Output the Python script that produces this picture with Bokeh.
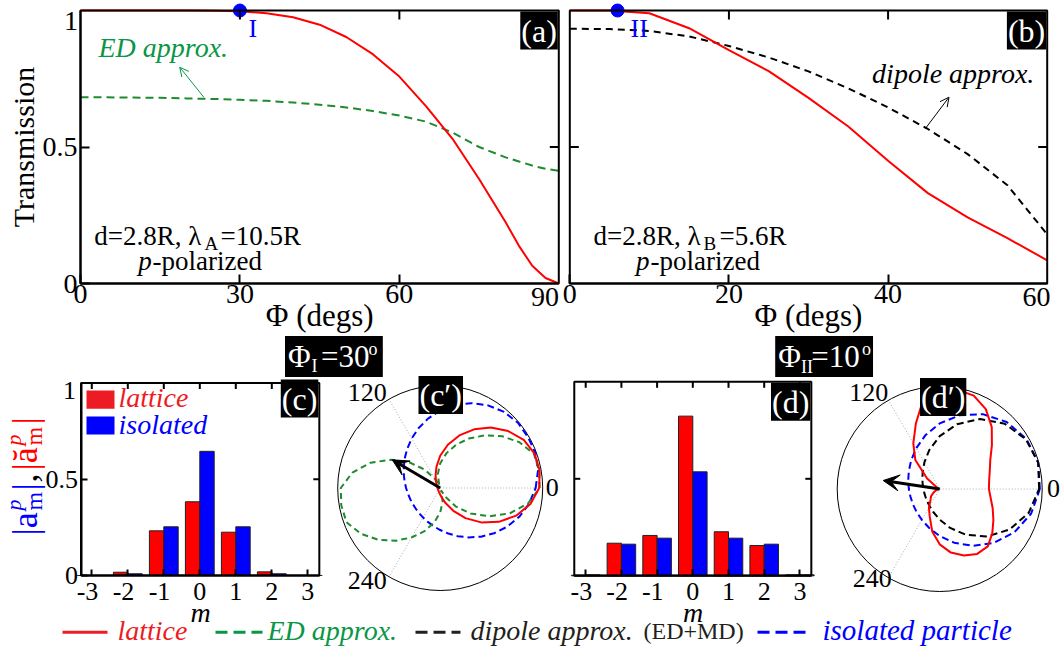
import numpy as np
from bokeh.plotting import figure
from bokeh.models import (Range1d, LinearAxis, FixedTicker, Label, Arrow,
                          OpenHead, VeeHead, ColumnDataSource, BoxAnnotation)
from bokeh.transform import dodge
from bokeh.embed import file_html
from bokeh.resources import INLINE

# ------------------------------------------------------------------ data
# (a)  d=2.8R, lambda_A=10.5R
phi_a = [0, 5, 10, 15, 20, 25, 30, 35, 40, 45, 50, 55, 60, 65, 70, 75, 80, 82.5, 85, 87.5, 90]
trans_lattice_a = [1.0, 1.0, 1.0, 1.0, 1.0, 0.999, 0.997, 0.99, 0.975, 0.948, 0.903, 0.84,
                   0.758, 0.65, 0.53, 0.383, 0.224, 0.138, 0.065, 0.02, 0.0]
trans_ed_a = [0.682, 0.682, 0.681, 0.68, 0.678, 0.676, 0.673, 0.669, 0.663, 0.655, 0.645,
              0.632, 0.615, 0.593, 0.553, 0.5, 0.462, 0.447, 0.432, 0.42, 0.413]
point_I_phi = [30]
point_I_T = [1.0]

# (b)  d=2.8R, lambda_B=5.6R
phi_b = [0, 5, 10, 15, 20, 25, 30, 35, 40, 45, 50, 55, 60]
trans_lattice_b = [1.0, 1.0, 0.99, 0.935, 0.855, 0.778, 0.68, 0.575, 0.45, 0.331, 0.242, 0.166, 0.085]
phi_b_dip = [0, 5, 10, 15, 20, 25, 30, 35, 40, 45, 50, 55, 57.5, 60]
trans_dipole_b = [0.933, 0.932, 0.925, 0.905, 0.87, 0.828, 0.777, 0.715, 0.645, 0.566, 0.474,
                  0.36, 0.27, 0.18]
point_II_phi = [6]
point_II_T = [1.0]

# (c), (d) multipole amplitudes
m_vals = [-3, -2, -1, 0, 1, 2, 3]
c_lattice = [0.0, 0.017, 0.232, 0.383, 0.225, 0.019, 0.0]
c_isolated = [0.0, 0.009, 0.253, 0.645, 0.253, 0.009, 0.0]
d_lattice = [0.003, 0.168, 0.208, 0.823, 0.227, 0.156, 0.005]
d_isolated = [0.005, 0.163, 0.194, 0.536, 0.194, 0.163, 0.005]

# (c'), (d') polar patterns (angle in degrees, normalised radius)
ang15 = [0, 15, 30, 45, 60, 75, 90, 105, 120, 135, 150, 165, 180, 195, 210, 225, 240, 255,
         270, 285, 300, 315, 330, 345]
ang10 = [0, 10, 20, 30, 40, 50, 60, 70, 80, 90, 100, 110, 120, 130, 140, 150, 160, 170, 180,
         190, 200, 210, 220, 230, 240, 250, 260, 270, 280, 290, 300, 310, 320, 330, 340, 350]
cp_lattice = [0.966, 0.985, 0.98, 0.941, 0.865, 0.770, 0.661, 0.546, 0.429, 0.315, 0.210, 0.131,
              0.083, 0.057, 0.044, 0.036, 0.031, 0.028, 0.026, 0.025, 0.025, 0.025, 0.026, 0.029,
              0.032, 0.038, 0.048, 0.065, 0.097, 0.159, 0.257, 0.384, 0.522, 0.660, 0.789, 0.894]
cp_ed = [0.97, 0.98, 0.973, 0.893, 0.787, 0.671, 0.557, 0.448, 0.343, 0.24, 0.135, 0.025,
         0.097, 0.233, 0.387, 0.553, 0.722, 0.87, 0.97, 0.98, 0.973, 0.893, 0.787, 0.671,
         0.557, 0.448, 0.343, 0.24, 0.135, 0.025, 0.097, 0.233, 0.387, 0.553, 0.722, 0.87]
cp_isolated = [0.931, 0.969, 0.99, 0.99, 0.99, 0.969, 0.931, 0.881, 0.821, 0.755, 0.687, 0.620,
               0.557, 0.500, 0.451, 0.410, 0.378, 0.352, 0.333, 0.320, 0.312, 0.310, 0.312, 0.320,
               0.333, 0.352, 0.378, 0.410, 0.451, 0.500, 0.557, 0.620, 0.687, 0.755, 0.821, 0.881]
dp_dipole = [0.970, 0.995, 0.970, 0.899, 0.789, 0.655, 0.516, 0.393, 0.299, 0.235, 0.195, 0.172,
             0.159, 0.155, 0.159, 0.172, 0.195, 0.235, 0.299, 0.393, 0.516, 0.655, 0.789, 0.899]
dp_isolated = [0.977, 0.995, 0.977, 0.924, 0.843, 0.744, 0.640, 0.542, 0.459, 0.394, 0.348, 0.318,
               0.301, 0.295, 0.301, 0.318, 0.348, 0.394, 0.459, 0.542, 0.640, 0.744, 0.843, 0.924]
dp_lattice = [0.48, 0.49, 0.52, 0.57, 0.665, 0.79, 0.90, 0.97, 0.985, 0.97, 0.90, 0.68, 0.515,
              0.37, 0.16, 0.03, 0.015, 0.01, 0.01, 0.015, 0.04, 0.07, 0.11, 0.14, 0.21, 0.285,
              0.42, 0.54, 0.63, 0.69, 0.731, 0.73, 0.67, 0.605, 0.55, 0.505]
polar_grid_angles = [0, 120, 240]
arrow_cp = [-0.468, 0.275]
arrow_dp = [-0.551, 0.083]

# ------------------------------------------------------------------ style
SERIF = "Liberation Serif"
RED = "#ff0000"
GREEN = "#1f8a2e"
GREEN_TXT = "#0a9646"
BLUE = "#0000ff"
LEG_RED = "#ed1c24"
DARK = "#231f20"

W, H = 1060, 650          # one canvas at the page origin; page pixel (px, py) -> (px, -py)
p = figure(width=W, height=H, x_range=Range1d(0, W), y_range=Range1d(-H, 0),
           x_axis_type=None, y_axis_type=None, output_backend="svg", toolbar_location=None,
           min_border=0, min_border_left=0, min_border_right=0, min_border_top=0,
           min_border_bottom=0, background_fill_color="white", border_fill_color="white")
p.outline_line_color = None


def Y(py):
    return -py


MID = 0.3375   # distance (in em) between the alphabetic baseline and the text middle


def add_text(x, y, text, size, color="black", style="normal", align="left",
             baseline="alphabetic", angle=0.0, bg=None, pad=0):
    """(x, y) is a page position; for 'alphabetic' it is the baseline start."""
    if baseline == "alphabetic":
        if angle:
            x = x - MID * size
        else:
            y = y - MID * size
        baseline = "middle"
    kw = dict(x=x, y=Y(y), text=text, text_font=SERIF, text_font_size=f"{size}px",
              text_color=color, text_font_style=style, text_align=align,
              text_baseline=baseline, angle=angle)
    if bg is not None:
        kw.update(background_fill_color=bg, background_fill_alpha=1.0, padding=pad)
    p.add_layout(Label(**kw))


xr, yr, panels = {}, {}, {}


def panel(name, x0, x1, X0, X1, y0, y1, Y0, Y1):
    """data (x0..x1, y0..y1) shown at page pixels (X0..X1, Y0 bottom..Y1 top)."""
    sx = (X1 - X0) / (x1 - x0)
    sy = (Y0 - Y1) / (y1 - y0)
    xr[name] = Range1d(x0 + (0 - X0) / sx, x0 + (W - X0) / sx)
    yr[name] = Range1d(y0 - (H - Y0) / sy, y0 + (Y0 - 0) / sy)
    panels[name] = (sx, sy)


# page geometry of every panel
panel("a", 0, 90, 80, 558.3, 0, 1, 283, 10)
panel("b", 0, 60, 569.3, 1046.7, 0, 1, 283, 10)
panel("c", -3, 3, 91.3, 307.3, 0, 1, 575, 382.5)
panel("d", -3, 3, 585.2, 799.4, 0, 1, 575.3, 381.3)
panel("cp", 0, 1, 439.7, 542.2, 0, 1, 487.5, 385.0)
panel("dp", 0, 1, 939.2, 1041.7, 0, 1, 488.5, 386.0)
p.extra_x_ranges = xr
p.extra_y_ranges = yr


def frame(name, xb, yb, xticks, yticks, tick, size, xlabels, ylabels, left_axis=True):
    sx, sy = panels[name]
    p.add_layout(BoxAnnotation(left=xb[0], right=xb[1], bottom=yb[0], top=yb[1],
                               x_range_name=name, y_range_name=name, fill_color=None,
                               line_color="black", line_width=2, line_alpha=1.0))
    common = dict(x_range_name=name, y_range_name=name, major_tick_in=tick, major_tick_out=0,
                  minor_tick_line_color=None, axis_line_width=2, axis_line_color="black",
                  major_tick_line_width=2, major_tick_line_color="black",
                  major_label_text_font=SERIF, major_label_text_font_size=f"{size}px",
                  major_label_text_color="black")
    xa = LinearAxis(fixed_location=yb[0], bounds=xb,
                    ticker=FixedTicker(ticks=list(xlabels.keys())),
                    major_label_overrides=xlabels, major_label_standoff=1, **common)
    p.add_layout(xa, "below")
    ya = None
    if left_axis:
        ya = LinearAxis(fixed_location=xb[0], bounds=yb,
                        ticker=FixedTicker(ticks=list(ylabels.keys())),
                        major_label_overrides=ylabels, major_label_standoff=3, **common)
        p.add_layout(ya, "left")
    else:
        p.segment(x0=[xb[0]] * len(yticks), y0=yticks, x1=[xb[0] + tick / sx] * len(yticks),
                  y1=yticks, line_color="black", line_width=2, x_range_name=name,
                  y_range_name=name)
    # mirrored inward ticks on top and right
    p.segment(x0=xticks, y0=[yb[1]] * len(xticks), x1=xticks, y1=[yb[1] - tick / sy] * len(xticks),
              line_color="black", line_width=2, x_range_name=name, y_range_name=name)
    p.segment(x0=[xb[1]] * len(yticks), y0=yticks, x1=[xb[1] - tick / sx] * len(yticks),
              y1=yticks, line_color="black", line_width=2, x_range_name=name, y_range_name=name)
    return xa, ya


# ------------------------------------------------------------------ (a)
p.line(phi_a, trans_ed_a, line_color=GREEN, line_width=2, line_dash="8 5",
       x_range_name="a", y_range_name="a")
p.line(phi_a, trans_lattice_a, line_color=RED, line_width=2, x_range_name="a", y_range_name="a")
p.scatter(point_I_phi, point_I_T, size=13, fill_color=BLUE, line_color=BLUE,
          x_range_name="a", y_range_name="a")
_, ya_a = frame("a", (0, 90), (0, 1), [30, 60], [0.5], 9, 28,
                {0: "0", 30: "30", 60: "60"}, {0: "0", 0.5: "0.5"})
ya_a.axis_label = "Transmission"
ya_a.axis_label_text_font = SERIF
ya_a.axis_label_text_font_style = "normal"
ya_a.axis_label_text_font_size = "30px"
ya_a.axis_label_text_color = "black"
ya_a.axis_label_standoff = 0

add_text(77.5, 30, "1", 28, align="right")
add_text(558.5, 306, "90", 28, align="right")
add_text(319.2, 325, "Φ (degs)", 31, align="center")
add_text(248, 36.5, "I", 26, color=BLUE)
add_text(98, 56, "ED approx.", 28, color=GREEN_TXT, style="italic")
p.add_layout(Arrow(end=OpenHead(size=9, line_color=GREEN_TXT, line_width=1),
                   x_start=203.3, y_start=Y(96.7), x_end=179.2, y_end=Y(66.7),
                   line_color=GREEN_TXT, line_width=1))
add_text(93.7, 245, "d=2.8R, λ", 27)
add_text(204, 249, "A", 19)
add_text(220, 245, "=10.5R", 27)
add_text(137.8, 269.5, "p", 27, style="italic")
add_text(152, 269.5, "-polarized", 27)
add_text(557.3, 11, "(a)", 32, color="white", align="right", baseline="top", bg="black", pad=1)
add_text(284.5, 366.5, "Φ\u2004=30\u2004", 31, color="white", bg="black", pad=3)
add_text(311, 372, "I", 18, color="white")
add_text(368, 354.5, "o", 18, color="white")

# ------------------------------------------------------------------ (b)
p.line(phi_b_dip, trans_dipole_b, line_color="black", line_width=2, line_dash="7 5",
       x_range_name="b", y_range_name="b")
p.line(phi_b, trans_lattice_b, line_color=RED, line_width=2, x_range_name="b", y_range_name="b")
p.scatter(point_II_phi, point_II_T, size=13, fill_color=BLUE, line_color=BLUE,
          x_range_name="b", y_range_name="b")
frame("b", (0, 60), (0, 1), [20, 40], [0.5], 9, 28,
      {0: "0", 20: "20", 40: "40"}, {}, left_axis=False)
add_text(1050, 305.5, "60", 28, align="right")
add_text(808, 325, "Φ (degs)", 31, align="center")
add_text(630, 36.5, "II", 26, color=BLUE)
add_text(871.6, 82, "dipole approx.", 28, style="italic")
p.add_layout(Arrow(end=OpenHead(size=9, line_color="black", line_width=1),
                   x_start=924.7, y_start=Y(128.3), x_end=948.5, y_end=Y(96.7),
                   line_color="black", line_width=1))
add_text(592.9, 245, "d=2.8R, λ", 27)
add_text(703, 249, "B", 19)
add_text(719, 245, "=5.6R", 27)
add_text(635.5, 269.5, "p", 27, style="italic")
add_text(650, 269.5, "-polarized", 27)
add_text(1045.7, 11, "(b)", 32, color="white", align="right", baseline="top", bg="black", pad=1)
add_text(774.7, 366.5, "Φ\u2004=10\u2004", 31, color="white", bg="black", pad=3)
add_text(800.5, 373, "II", 18, color="white")
add_text(861.5, 355, "o", 18, color="white")

# ------------------------------------------------------------------ (c)
mlabels = {-3: "-3\u2004", -2: "-2\u2004", -1: "-1\u2004", 0: "0", 1: "1", 2: "2", 3: "3"}
src_c = ColumnDataSource(dict(m=m_vals, lattice=c_lattice, isolated=c_isolated))
p.vbar(x=dodge("m", -0.2), top="lattice", width=0.4, bottom=0, fill_color=RED,
       line_color="#222222", line_width=1, source=src_c, x_range_name="c", y_range_name="c")
p.vbar(x=dodge("m", 0.2), top="isolated", width=0.4, bottom=0, fill_color=BLUE,
       line_color="#222222", line_width=1, source=src_c, x_range_name="c", y_range_name="c")
frame("c", (-3.3, 3.32), (0, 1), m_vals, [0.5], 6, 26, mlabels, {0: "0", 0.5: "0.5"})
add_text(75.5, 398.3, "1", 26, align="right")
add_text(200, 621, "m", 28, style="italic", align="center")
p.add_layout(BoxAnnotation(left=86, right=114, top=Y(390), bottom=Y(408.3),
                           fill_color=LEG_RED, fill_alpha=1.0, line_color=None))
p.add_layout(BoxAnnotation(left=86, right=114, top=Y(416), bottom=Y(434),
                           fill_color=BLUE, fill_alpha=1.0, line_color=None))
add_text(118, 406.5, "lattice", 28, color=LEG_RED, style="italic")
add_text(118, 433.5, "isolated", 28, color=BLUE, style="italic")
add_text(317.8, 379, "(c)", 32, color="white", align="right", baseline="top", bg="black", pad=1)
# rotated y label  |a^p_m|,|ă^p_m|
ROT = np.pi / 2
add_text(37, 535, "|a", 36, color=BLUE, angle=ROT)
add_text(20.5, 510, "p", 22, color=BLUE, style="italic", angle=ROT)
add_text(42, 510, "m", 24, color=BLUE, angle=ROT)
add_text(37, 490, "|", 36, color=BLUE, angle=ROT)
add_text(37, 482, ",", 36, color="black", angle=ROT)
add_text(37, 470, "|ă", 36, color=RED, angle=ROT)
add_text(20.5, 445, "p", 22, color=RED, style="italic", angle=ROT)
add_text(42, 445, "m", 24, color=RED, angle=ROT)
add_text(37, 424, "|", 36, color=RED, angle=ROT)

# ------------------------------------------------------------------ (d)
src_d = ColumnDataSource(dict(m=m_vals, lattice=d_lattice, isolated=d_isolated))
p.vbar(x=dodge("m", -0.2), top="lattice", width=0.4, bottom=0, fill_color=RED,
       line_color="#222222", line_width=1, source=src_d, x_range_name="d", y_range_name="d")
p.vbar(x=dodge("m", 0.2), top="isolated", width=0.4, bottom=0, fill_color=BLUE,
       line_color="#222222", line_width=1, source=src_d, x_range_name="d", y_range_name="d")
frame("d", (-3.32, 3.32), (0, 1), m_vals, [0.5], 6, 26, mlabels, {}, left_axis=False)
add_text(692.5, 621, "m", 28, style="italic", align="center")
add_text(809.8, 382.3, "(d)", 32, color="white", align="right", baseline="top", bg="black", pad=1)


# ------------------------------------------------------------------ polar panels
def polar(name, curves, arrow):
    th = np.deg2rad(polar_grid_angles)
    p.segment(x0=[0] * len(th), y0=[0] * len(th), x1=np.cos(th), y1=np.sin(th),
              line_color="#aaaaaa", line_width=1, line_dash="1 2",
              x_range_name=name, y_range_name=name)
    p.circle(x=[0], y=[0], radius=1.0, fill_color=None, line_color="black", line_width=1,
             x_range_name=name, y_range_name=name)
    for ang, r, kw in curves:
        t = np.deg2rad(list(ang) + [ang[0]])
        rr = np.array(list(r) + [r[0]])
        p.line(rr * np.cos(t), rr * np.sin(t), x_range_name=name, y_range_name=name, **kw)
    p.add_layout(Arrow(end=VeeHead(size=16, fill_color="black", line_color="black"),
                       x_start=0, y_start=0, x_end=arrow[0], y_end=arrow[1],
                       line_color="black", line_width=3, x_range_name=name, y_range_name=name))


polar("cp", [(ang10, cp_isolated, dict(line_color=BLUE, line_width=2, line_dash="7 4")),
             (ang10, cp_ed, dict(line_color=GREEN, line_width=2, line_dash="6 4")),
             (ang10, cp_lattice, dict(line_color=RED, line_width=2))], arrow_cp)
add_text(366.7, 391.7, "120", 26, align="center", baseline="middle")
add_text(551.7, 487, "0", 26, align="center", baseline="middle")
add_text(366.7, 580, "240", 26, align="center", baseline="middle")
add_text(418, 375.5, "(c\u2032)", 32, color="white", baseline="top", bg="black", pad=1)

polar("dp", [(ang15, dp_isolated, dict(line_color=BLUE, line_width=2, line_dash="7 4")),
             (ang15, dp_dipole, dict(line_color="black", line_width=2, line_dash="7 4")),
             (ang10, dp_lattice, dict(line_color=RED, line_width=2))], arrow_dp)
add_text(868.3, 391.7, "120", 26, align="center", baseline="middle")
add_text(1053, 488.3, "0", 26, align="center", baseline="middle")
add_text(871.7, 578.3, "240", 26, align="center", baseline="middle")
add_text(919.5, 377.5, "(d\u2032)", 32, color="white", baseline="top", bg="black", pad=1)

# ------------------------------------------------------------------ legend
LY = Y(631.7)
p.line([62, 107], [LY, LY], line_color=LEG_RED, line_width=3)
p.line([215, 262], [LY, LY], line_color=GREEN_TXT, line_width=3, line_dash="12 6")
p.line([415, 460], [LY, LY], line_color=DARK, line_width=3, line_dash="12 6")
p.line([757, 810], [LY, LY], line_color=BLUE, line_width=3, line_dash="12 6")
add_text(117, 639, "lattice", 28, color=LEG_RED, style="italic")
add_text(267, 639, "ED approx.", 28, color=GREEN_TXT, style="italic")
add_text(470, 639, "dipole approx.", 28, color=DARK, style="italic")
add_text(643, 639, "(ED+MD)", 24, color=DARK)
add_text(822, 639, "isolated particle", 29, color=BLUE, style="italic")

open("out.html", "w").write(file_html(p, INLINE))
